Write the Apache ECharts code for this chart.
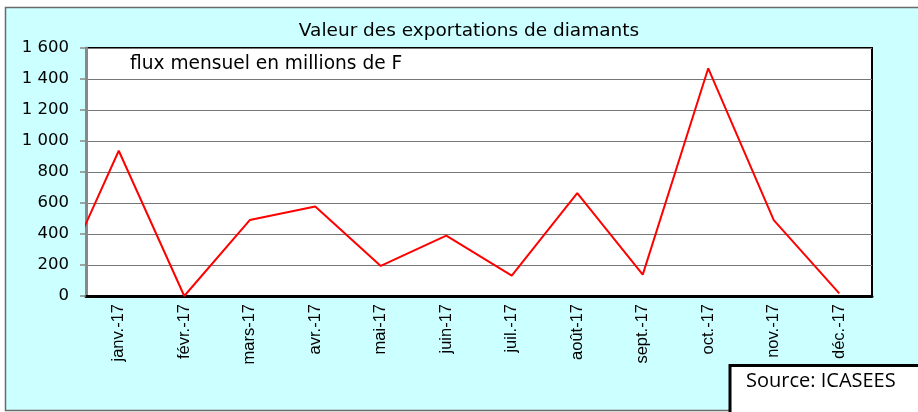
<!DOCTYPE html>
<html>
<head>
<meta charset="utf-8">
<script src="https://cdn.jsdelivr.net/npm/echarts@6/dist/echarts.min.js"></script>
<style>
  html, body { margin: 0; padding: 0; background: #fff; }
  #main { width: 918px; height: 412px; }
</style>
</head>
<body>
<div id="main"></div>
<script>
'use strict';

// mois affichés sur l'axe
const months = ['janv.-17', 'févr.-17', 'mars-17', 'avr.-17', 'mai-17', 'juin-17',
    'juil.-17', 'août-17', 'sept.-17', 'oct.-17', 'nov.-17', 'déc.-17'];
// flux mensuel en millions de F
const exportValues = [937, 0, 490, 578, 194, 389, 131, 664, 138, 1469, 490, 17];
// déc.-16, seulement visible au bord gauche
const previousValue = 0;
const yTicks = [0, 200, 400, 600, 800, 1000, 1200, 1400, 1600];

let mChart = null;

window.onload = function () {
    mChart = echarts.init(document.getElementById('main'));

    let lineData = [[-0.5, previousValue]];
    exportValues.forEach(function (v, i) {
        lineData.push([i + 0.5, v]);
    });

    let options = {
        animation: false,
        backgroundColor: '#fff',
        graphic: [
            {
                type: 'rect', z: -10, silent: true,
                shape: { x: 5.5, y: 7.5, width: 930, height: 403 },
                style: { fill: '#ccffff', stroke: '#6a6a6a', lineWidth: 1.5 }
            },
            {
                type: 'text', left: 130, top: 55,
                style: { text: 'flux mensuel en millions de F', fill: '#000',
                    font: '18.6px "DejaVu Sans"' }
            },
            {
                type: 'rect', z: 10,
                shape: { x: 730, y: 365.5, width: 200, height: 60 },
                style: { fill: '#fff', stroke: '#000', lineWidth: 3 }
            },
            {
                type: 'text', z: 11, left: 746, top: 371,
                style: { text: 'Source: ICASEES', fill: '#000',
                    font: '20px "Open Sans"' }
            }
        ],
        title: {
            text: 'Valeur des exportations de diamants',
            left: 464, top: 17, textAlign: 'center',
            textStyle: { fontFamily: 'DejaVu Sans', fontSize: 18.5, fontWeight: 'normal', color: '#000' }
        },
        grid: {
            left: 86, top: 48, right: 46, bottom: 116,
            show: true, backgroundColor: '#fff', borderColor: '#000', borderWidth: 2
        },
        xAxis: [
            {
                type: 'category',
                data: months,
                boundaryGap: true,
                axisLine: { lineStyle: { color: '#000', width: 3 } },
                axisTick: { length: 5, lineStyle: { color: '#000', width: 2 } },
                axisLabel: {
                    rotate: 90, interval: 0, margin: 8,
                    fontFamily: 'Liberation Sans', fontSize: 16.5, color: '#000'
                }
            },
            {
                type: 'value', min: 0, max: months.length, show: false
            }
        ],
        yAxis: {
            type: 'value',
            min: yTicks[0], max: yTicks[yTicks.length - 1], interval: 200,
            axisLine: { show: true, lineStyle: { color: '#888', width: 3 } },
            axisTick: { show: true, length: 6, lineStyle: { color: '#888', width: 1.5 } },
            splitLine: { lineStyle: { color: '#777', width: 1 } },
            axisLabel: {
                margin: 17, fontFamily: 'DejaVu Sans', fontSize: 16.5, color: '#000',
                formatter: function (v) {
                    return String(v).replace(/\B(?=(\d{3})+(?!\d))/g, ' ');
                }
            }
        },
        series: [{
            type: 'line',
            xAxisIndex: 1,
            data: lineData,
            symbol: 'none',
            clip: true,
            lineStyle: { color: '#ff0000', width: 2 }
        }]
    };

    mChart.setOption(options, true);
};
</script>
</body>
</html>
